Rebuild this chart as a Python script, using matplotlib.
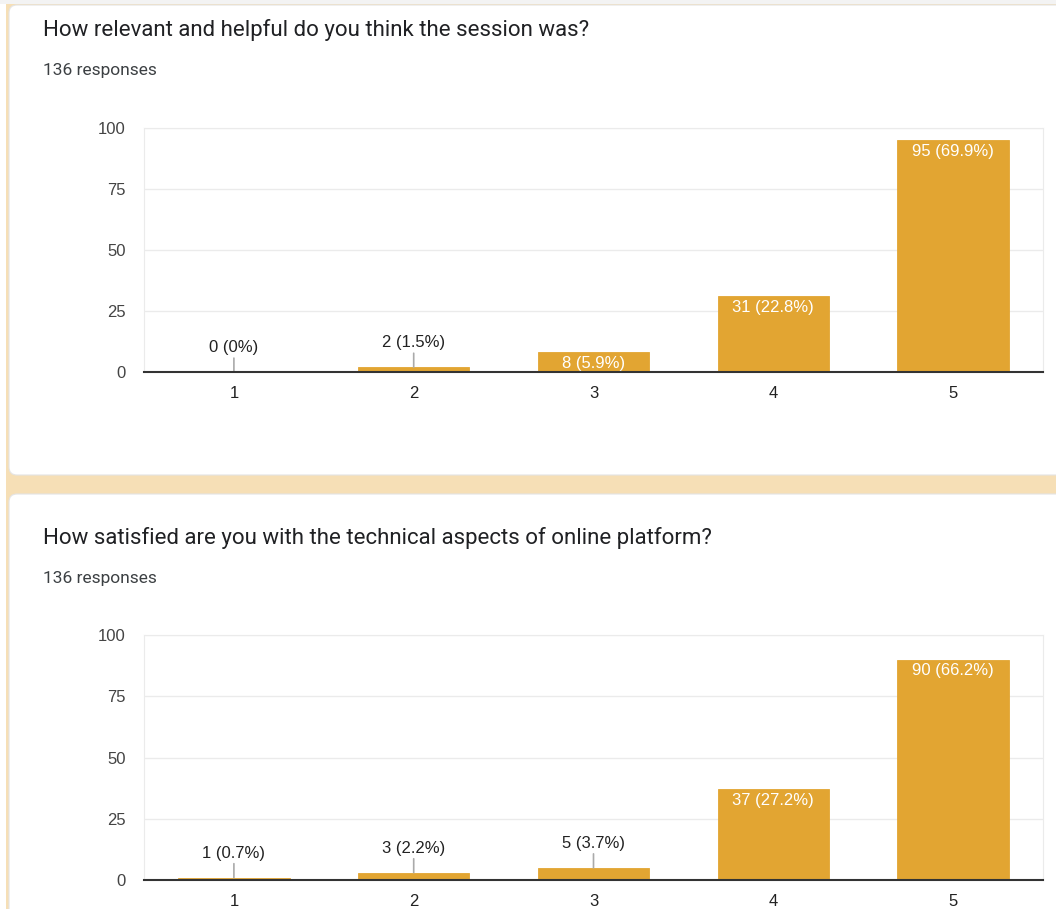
import matplotlib
matplotlib.use("Agg")
import matplotlib.pyplot as plt
from matplotlib.patches import FancyBboxPatch, Rectangle

# survey data
ratings = [1, 2, 3, 4, 5]
total = 136
q1_title = "How relevant and helpful do you think the session was?"
q1_counts = [0, 2, 8, 31, 95]
q1_pct = ["0%", "1.5%", "5.9%", "22.8%", "69.9%"]
q2_title = "How satisfied are you with the technical aspects of online platform?"
q2_counts = [1, 3, 5, 37, 90]
q2_pct = ["0.7%", "2.2%", "3.7%", "27.2%", "66.2%"]
y_ticks = [0, 25, 50, 75, 100]

bar_color = "#e2a532"
beige = "#f6dfb6"
W, H = 1056, 909

fig = plt.figure(figsize=(W / 100, H / 100), dpi=100)
fig.patch.set_facecolor("white")

# background layer in pixel coordinates
bg = fig.add_axes([0, 0, 1, 1], zorder=-10)
bg.set_xlim(0, W)
bg.set_ylim(H, 0)
bg.axis("off")
bg.add_patch(Rectangle((6, 4), W, H, facecolor=beige, edgecolor="none"))
bg.add_patch(Rectangle((0, 0), W, 4, facecolor="#f3f3f3", edgecolor="none"))
bg.add_patch(FancyBboxPatch((9, 5), W + 40, 470, boxstyle="round,pad=0,rounding_size=8",
                            facecolor="white", edgecolor="#e4e4e4", lw=0.8))
bg.add_patch(FancyBboxPatch((9, 494), W + 40, 450, boxstyle="round,pad=0,rounding_size=8",
                            facecolor="white", edgecolor="#e4e4e4", lw=0.8))

for ty, title in [(30, q1_title), (538, q2_title)]:
    bg.text(43, ty, title, fontsize=16, family="Roboto", color="#202124", va="center")
    bg.text(43, ty + 40, "%d responses" % total, fontsize=12.5, family="Roboto",
            color="#3c4043", va="center")


def draw_chart(rect, counts, pcts):
    ax = fig.add_axes(rect)
    ax.set_xlim(0.5, 5.5)
    ax.set_ylim(0, 100)
    ax.bar(ratings, counts, width=0.62, color=bar_color, edgecolor=bar_color,
           linewidth=0.6, zorder=3)
    for x, c, p in zip(ratings, counts, pcts):
        label = "%d (%s)" % (c, p)
        if c >= 8:
            ax.text(x, c - 1.5, label, ha="center", va="top", color="white",
                    fontsize=12, family="Liberation Sans", zorder=4)
        else:
            ax.annotate(label, xy=(x, c), xytext=(0, 12), textcoords="offset points",
                        ha="center", va="bottom", fontsize=12, color="#222222",
                        family="Liberation Sans",
                        arrowprops=dict(arrowstyle="-", color="#aaaaaa", lw=1.2,
                                        shrinkA=0, shrinkB=0))
    ax.set_yticks(y_ticks)
    ax.set_xticks(ratings)
    ax.grid(axis="y", color="#ebebeb", lw=1, zorder=0)
    ax.set_axisbelow(True)
    for s in ["top", "right", "left"]:
        ax.spines[s].set_color("#ebebeb")
    ax.spines["bottom"].set_color("#333333")
    ax.spines["bottom"].set_linewidth(1.5)
    ax.spines["bottom"].set_zorder(5)
    ax.tick_params(length=0, labelsize=12, colors="#444444", pad=10)
    for t in ax.get_xticklabels() + ax.get_yticklabels():
        t.set_family("Liberation Sans")
    for t in ax.get_xticklabels():
        t.set_color("#222222")
    ax.tick_params(axis="y", pad=13)
    return ax


draw_chart([144 / W, 1 - 372 / H, 899 / W, 244 / H], q1_counts, q1_pct)
draw_chart([144 / W, 1 - 880 / H, 899 / W, 245 / H], q2_counts, q2_pct)

fig.savefig("out.png", dpi=100)
